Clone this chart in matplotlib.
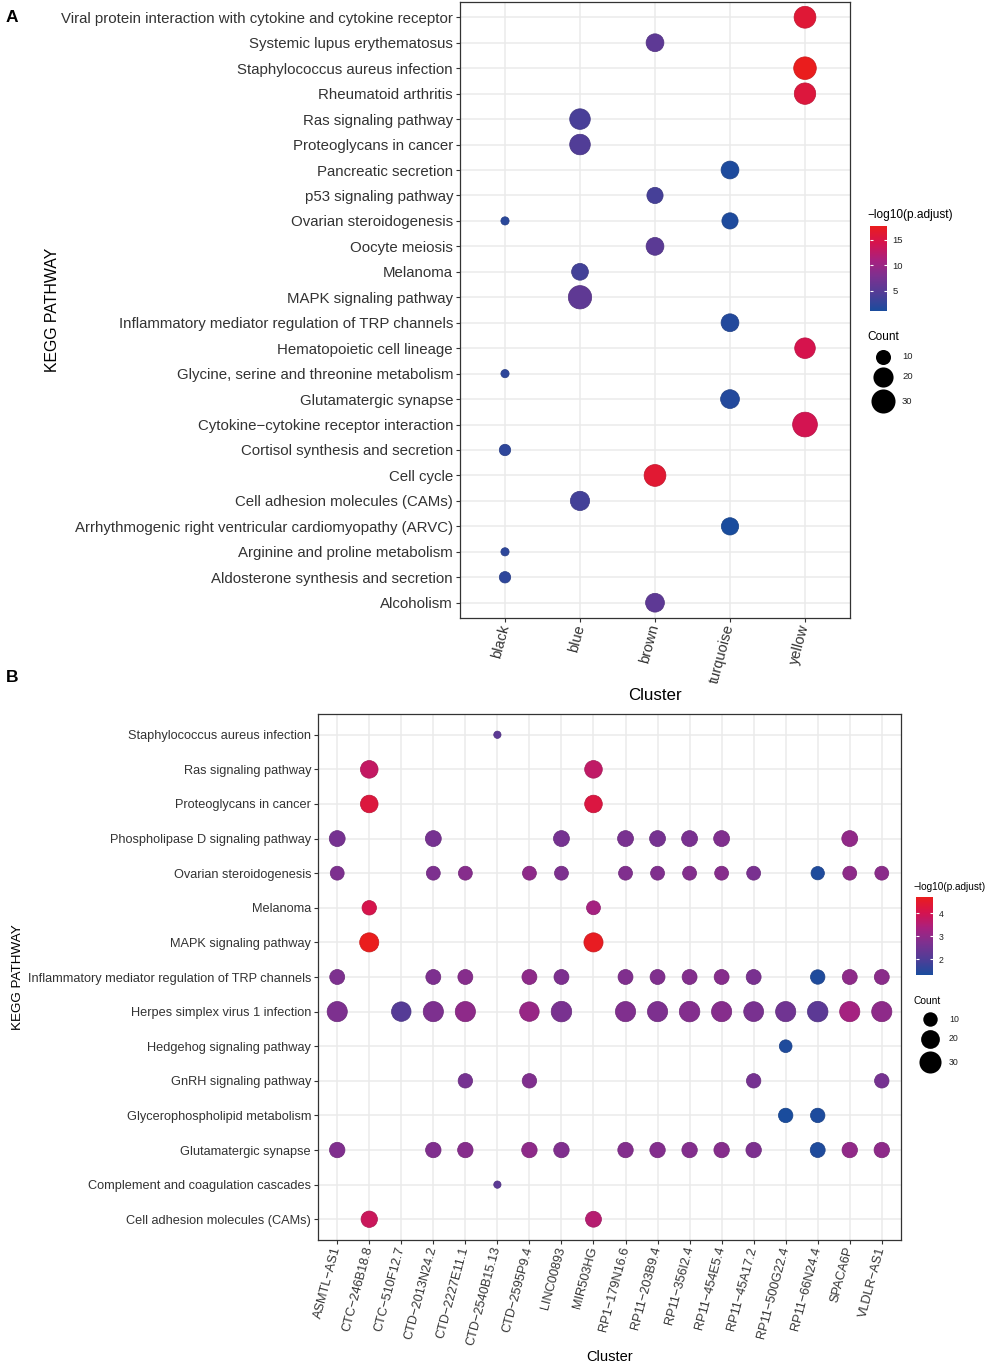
#!/usr/bin/env python3
# coding: utf-8

import numpy as np
import matplotlib
matplotlib.use("Agg")
import matplotlib.pyplot as plt
from matplotlib.colors import LinearSegmentedColormap, Normalize, to_rgb
from matplotlib.cm import ScalarMappable

plt.rcParams['font.family'] = ['Liberation Sans', 'DejaVu Sans']

M = "\u2212"

#
# Panel A data (pathways listed top to bottom)
#
a_clusters = ["black", "blue", "brown", "turquoise", "yellow"]
a_pathways = [
    "Viral protein interaction with cytokine and cytokine receptor",
    "Systemic lupus erythematosus",
    "Staphylococcus aureus infection",
    "Rheumatoid arthritis",
    "Ras signaling pathway",
    "Proteoglycans in cancer",
    "Pancreatic secretion",
    "p53 signaling pathway",
    "Ovarian steroidogenesis",
    "Oocyte meiosis",
    "Melanoma",
    "MAPK signaling pathway",
    "Inflammatory mediator regulation of TRP channels",
    "Hematopoietic cell lineage",
    "Glycine, serine and threonine metabolism",
    "Glutamatergic synapse",
    "Cytokine" + M + "cytokine receptor interaction",
    "Cortisol synthesis and secretion",
    "Cell cycle",
    "Cell adhesion molecules (CAMs)",
    "Arrhythmogenic right ventricular cardiomyopathy (ARVC)",
    "Arginine and proline metabolism",
    "Aldosterone synthesis and secretion",
    "Alcoholism",
]
a_path = [0, 1, 2, 3, 4, 5, 6, 7, 8, 8, 9, 10, 11, 12, 13, 14, 15, 16, 17, 18, 19, 20, 21, 22, 23]
a_clus = ["yellow", "brown", "yellow", "yellow", "blue", "blue", "turquoise", "brown",
          "black", "turquoise", "brown", "blue", "blue", "turquoise", "yellow", "black",
          "turquoise", "yellow", "black", "brown", "blue", "turquoise", "black", "black", "brown"]
a_count = [24, 15, 26, 23, 21, 21, 15, 12, 2, 12, 15, 13, 28, 15, 21, 2,
           17, 32, 5, 24, 18, 14, 2, 5, 17]
a_logp = [16.0, 5.5, 17.7, 15.5, 4.0, 4.5, 1.3, 3.8, 2.0, 1.3, 5.3, 3.6, 5.6, 1.6, 14.5, 2.3,
          1.6, 14.2, 2.3, 16.2, 3.6, 1.0, 2.2, 2.3, 5.5]

#
# Panel B data
#
b_clusters = ["ASMTL" + M + "AS1", "CTC" + M + "246B18.8", "CTC" + M + "510F12.7",
              "CTD" + M + "2013N24.2", "CTD" + M + "2227E11.1", "CTD" + M + "2540B15.13",
              "CTD" + M + "2595P9.4", "LINC00893", "MIR503HG", "RP1" + M + "179N16.6",
              "RP11" + M + "203B9.4", "RP11" + M + "356I2.4", "RP11" + M + "454E5.4",
              "RP11" + M + "45A17.2", "RP11" + M + "500G22.4", "RP11" + M + "66N24.4",
              "SPACA6P", "VLDLR" + M + "AS1"]
b_pathways = [
    "Staphylococcus aureus infection",
    "Ras signaling pathway",
    "Proteoglycans in cancer",
    "Phospholipase D signaling pathway",
    "Ovarian steroidogenesis",
    "Melanoma",
    "MAPK signaling pathway",
    "Inflammatory mediator regulation of TRP channels",
    "Herpes simplex virus 1 infection",
    "Hedgehog signaling pathway",
    "GnRH signaling pathway",
    "Glycerophospholipid metabolism",
    "Glutamatergic synapse",
    "Complement and coagulation cascades",
    "Cell adhesion molecules (CAMs)",
]
# cluster index per pathway row
b_hits = [
    [5],
    [1, 8],
    [1, 8],
    [0, 3, 7, 9, 10, 11, 12, 16],
    [0, 3, 4, 6, 7, 9, 10, 11, 12, 13, 15, 16, 17],
    [1, 8],
    [1, 8],
    [0, 3, 4, 6, 7, 9, 10, 11, 12, 13, 15, 16, 17],
    [0, 2, 3, 4, 6, 7, 9, 10, 11, 12, 13, 14, 15, 16, 17],
    [14],
    [4, 6, 13, 17],
    [14, 15],
    [0, 3, 4, 6, 7, 9, 10, 11, 12, 13, 15, 16, 17],
    [5],
    [1, 8],
]
b_counts = [
    [1],
    [17, 17],
    [17, 17],
    [13, 13, 13, 13, 13, 13, 13, 13],
    [9, 9, 9, 9, 9, 9, 9, 9, 9, 9, 8, 9, 9],
    [10, 9],
    [21, 21],
    [11, 11, 11, 11, 11, 11, 11, 11, 11, 11, 10, 11, 11],
    [24, 22, 24, 24, 22, 25, 24, 24, 25, 24, 23, 24, 25, 24, 24],
    [7],
    [10, 10, 10, 10],
    [10, 10],
    [12, 12, 12, 12, 12, 12, 12, 12, 12, 12, 11, 12, 12],
    [1],
    [14, 13],
]
b_logps = [
    [2.2],
    [3.75, 3.7],
    [4.25, 4.2],
    [2.6, 2.6, 2.6, 2.65, 2.6, 2.65, 2.75, 3.0],
    [2.7, 2.7, 2.85, 2.95, 2.7, 2.75, 2.75, 2.8, 2.85, 2.65, 1.4, 2.95, 2.9],
    [4.05, 3.3],
    [4.69, 4.62],
    [2.7, 2.7, 2.85, 2.95, 2.7, 2.75, 2.75, 2.8, 2.85, 2.65, 1.4, 2.95, 2.9],
    [2.7, 2.1, 2.7, 2.95, 3.1, 2.65, 2.75, 2.7, 2.8, 2.85, 2.65, 2.5, 2.2, 3.3, 2.95],
    [1.4],
    [2.6, 2.75, 2.6, 2.6],
    [1.33, 1.38],
    [2.75, 2.75, 2.85, 2.95, 2.75, 2.8, 2.8, 2.8, 2.85, 2.7, 1.4, 3.0, 2.95],
    [2.2],
    [3.85, 3.55],
]

legend_counts = [10, 20, 30]

cmap = LinearSegmentedColormap.from_list(
    "bluered", ["#1a4c9d", "#4f3d97", "#7b3190", "#a8217f", "#d5134f", "#ea1d1d"])

W, H = 990, 1366
fig = plt.figure(figsize=(W / 100, H / 100), dpi=100)

# overlay in pixel units, used for the size legends
over = fig.add_axes([0, 0, 1, 1])
over.set_xlim(0, W)
over.set_ylim(H, 0)
over.axis("off")


def px_axes(x0, y0, x1, y1):
    return fig.add_axes([x0 / W, 1 - y1 / H, (x1 - x0) / W, (y1 - y0) / H])


def diam_px(counts, a, b):
    return a + b * np.sqrt(np.asarray(counts, dtype=float))


def dotpanel(ax, clusters, pathways, xs, ys, counts, logps, sa, sb, ylab_size, xlab_size,
             title_size, ytitle_pad):
    norm = Normalize(vmin=min(logps), vmax=max(logps))
    cols = cmap(norm(logps))
    edge = [tuple(np.array(to_rgb(c[:3])) * 0.85) for c in cols]
    ax.scatter(xs, ys, s=(diam_px(counts, sa, sb) * 0.72) ** 2, c=cols, edgecolors=edge,
               linewidths=0.5, zorder=3)
    n = len(pathways)
    ax.set_xticks(range(len(clusters)))
    ax.set_xticklabels(clusters, rotation=75, ha="right", va="center",
                       rotation_mode="anchor", fontsize=xlab_size, color="#333333")
    ax.set_yticks(range(n))
    ax.set_yticklabels(pathways[::-1], fontsize=ylab_size, color="#333333")
    ax.set_xlim(-0.6, len(clusters) - 0.4)
    ax.set_ylim(-0.6, n - 0.4)
    ax.grid(True, color="#ebebeb", linewidth=1.1)
    ax.set_axisbelow(True)
    ax.tick_params(length=3, width=0.8, color="#333333", pad=2)
    for sp in ax.spines.values():
        sp.set_color("#333333")
        sp.set_linewidth(0.9)
    ax.set_xlabel("Cluster", fontsize=title_size, labelpad=2)
    ax.set_ylabel("KEGG PATHWAY", fontsize=title_size - 0.8, labelpad=ytitle_pad)
    return norm


def colorbar(norm, box, ticks, tsize, lsize, title_xy):
    cax = px_axes(*box)
    cb = fig.colorbar(ScalarMappable(norm=norm, cmap=cmap), cax=cax)
    cb.outline.set_visible(False)
    cb.set_ticks(ticks)
    cax.tick_params(length=0, labelsize=lsize, pad=4, colors="#222222")
    cax.hlines(ticks, 0, 0.2, colors="white", linewidth=0.8)
    cax.hlines(ticks, 0.8, 1, colors="white", linewidth=0.8)
    over.text(title_xy[0], title_xy[1], M + "log10(p.adjust)",
              fontsize=tsize, ha="left", va="bottom")


def countlegend(sa, sb, x0, y0, tsize, lsize, gap):
    # title at (x0, y0); keys stacked below it
    over.text(x0, y0, "Count", fontsize=tsize, ha="left", va="bottom")
    d = diam_px(legend_counts, sa, sb)
    xc = x0 + 16
    y = y0 + 6
    for c, di in zip(legend_counts, d):
        y += di / 2
        over.scatter([xc], [y], s=(di * 0.72) ** 2, color="black", linewidths=0)
        over.text(xc + 19, y, str(c), fontsize=lsize, ha="left", va="center",
                  color="#222222")
        y += di / 2 + gap


# ---- Panel A ----
axA = px_axes(460, 2, 850, 618)
nA = len(a_pathways)
xa = [a_clusters.index(c) for c in a_clus]
ya = [nA - 1 - p for p in a_path]
normA = dotpanel(axA, a_clusters, a_pathways, xa, ya, a_count, a_logp, 2.7, 3.9,
                 10.8, 10.5, 12.2, 1)
colorbar(normA, (870, 226, 887, 311), [5, 10, 15], 8.6, 6.8, (867, 221))
countlegend(2.7, 3.9, 867, 343, 8.6, 6.8, 2.5)
fig.text(6 / W, 1 - 18 / H, "A", fontsize=12.5, fontweight="bold", va="center")

# ---- Panel B ----
axB = px_axes(318, 714, 901, 1240)
nB = len(b_pathways)
xb, yb, cb_, lb = [], [], [], []
for i, hits in enumerate(b_hits):
    for j, h in enumerate(hits):
        xb.append(h)
        yb.append(nB - 1 - i)
        cb_.append(b_counts[i][j])
        lb.append(b_logps[i][j])
normB = dotpanel(axB, b_clusters, b_pathways, xb, yb, cb_, lb, 4.0, 3.3,
                 9.2, 9.2, 10.5, 3)
colorbar(normB, (916, 897, 933, 975), [2, 3, 4], 7.2, 6.3, (914, 892))
countlegend(4.0, 3.3, 914, 1006, 7.4, 6.3, 3)
fig.text(6 / W, 1 - 678 / H, "B", fontsize=12.5, fontweight="bold", va="center")

fig.savefig("out.png", dpi=100)
